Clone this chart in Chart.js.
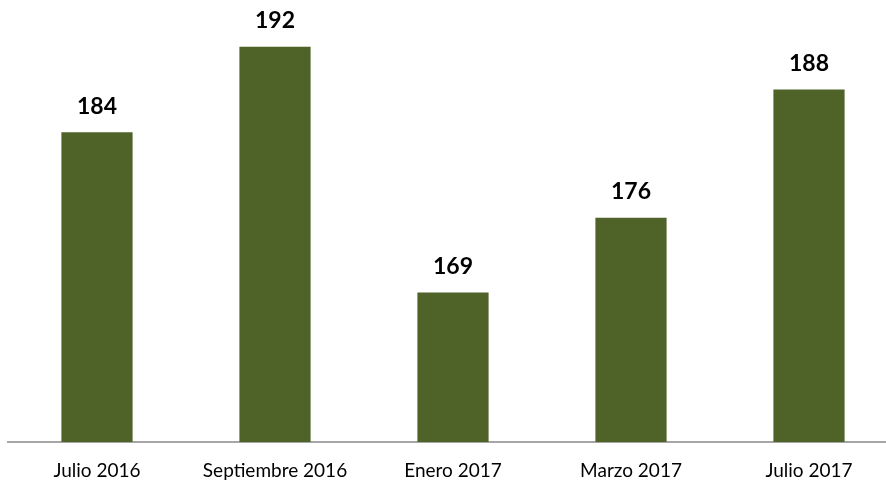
<!DOCTYPE html>
<html>
<head>
<meta charset="utf-8">
<script src="https://cdn.jsdelivr.net/npm/chart.js@4"></script>
<style>
  html, body { margin: 0; padding: 0; background: #fff; overflow: hidden; }
  #wrap { width: 898px; height: 483px; }
</style>
</head>
<body>
<div id="wrap"><canvas id="chart" width="898" height="483"></canvas></div>
<script>
// datos
const categories = ['Julio 2016', 'Septiembre 2016', 'Enero 2017', 'Marzo 2017', 'Julio 2017'];
const values = [184, 192, 169, 176, 188];
const yMin = 155;
const yMax = 196;

// etiquetas de valor encima de las barras
const valueLabels = {
    id: 'valueLabels',
    afterDatasetsDraw(chart) {
        const ctx = chart.ctx;
        const meta = chart.getDatasetMeta(0);
        ctx.save();
        ctx.font = 'bold 23px Lato, "Open Sans", sans-serif';
        ctx.fillStyle = '#000';
        ctx.textAlign = 'center';
        ctx.textBaseline = 'middle';
        meta.data.forEach((bar, i) => {
            ctx.fillText(String(values[i]), bar.x, bar.y - 26);
        });
        ctx.restore();
    }
};

new Chart(document.getElementById('chart'), {
    type: 'bar',
    data: {
        labels: categories,
        datasets: [{
            data: values,
            backgroundColor: '#4F6228',
            borderWidth: 0,
            barPercentage: 0.4,
            categoryPercentage: 1
        }]
    },
    options: {
        responsive: false,
        animation: false,
        layout: { padding: { left: 8, right: 0, top: 4, bottom: 0 } },
        plugins: {
            legend: { display: false },
            tooltip: { enabled: false }
        },
        scales: {
            x: {
                grid: { display: false },
                border: { display: true, color: '#A6A6A6', width: 2 },
                afterFit(scale) { scale.height = 41; },
                ticks: {
                    color: '#000',
                    padding: 9,
                    maxRotation: 0,
                    font: { family: 'Lato, "Open Sans", sans-serif', size: 19 }
                }
            },
            y: {
                display: false,
                min: yMin,
                max: yMax
            }
        }
    },
    plugins: [valueLabels]
});
</script>
</body>
</html>
